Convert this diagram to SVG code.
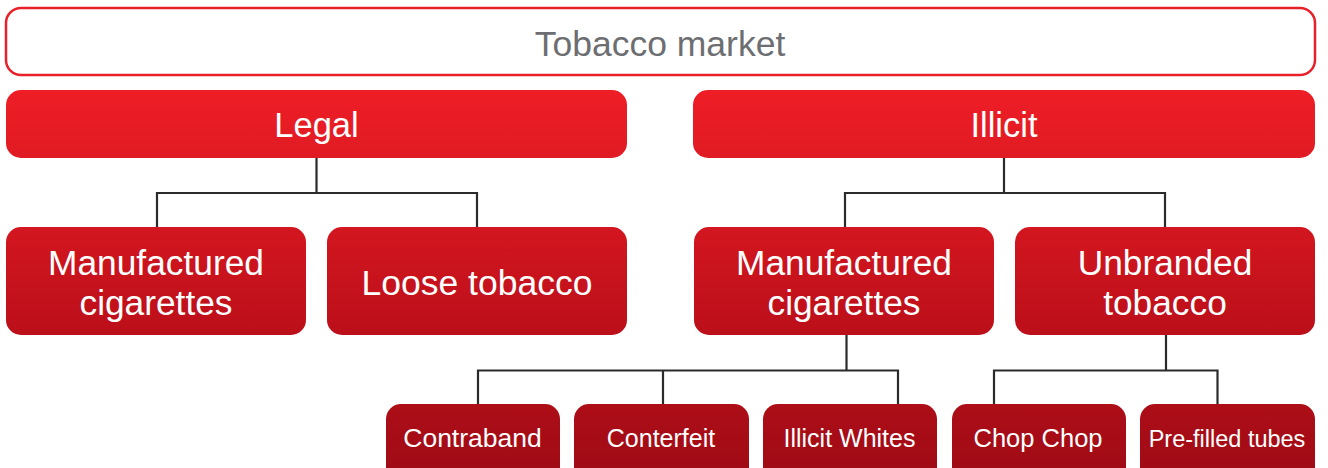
<svg xmlns="http://www.w3.org/2000/svg" width="1328" height="468" viewBox="0 0 1328 468">
  <defs>
    <linearGradient id="g1" x1="0" y1="0" x2="0" y2="1">
      <stop offset="0" stop-color="#EE1D26"/>
      <stop offset="1" stop-color="#E01B23"/>
    </linearGradient>
    <linearGradient id="g2" x1="0" y1="0" x2="0" y2="1">
      <stop offset="0" stop-color="#D3161F"/>
      <stop offset="1" stop-color="#BB0F1A"/>
    </linearGradient>
    <linearGradient id="g3" x1="0" y1="0" x2="0" y2="1">
      <stop offset="0" stop-color="#AD0E18"/>
      <stop offset="1" stop-color="#9E0A14"/>
    </linearGradient>
  </defs>
  <style>
    text { font-family: "Liberation Sans", Arial, Helvetica, sans-serif; text-anchor: middle; }
    .lbl { fill: #FFFFFF; }
    .l1 { fill: url(#g1); }
    .l2 { fill: url(#g2); }
    .l3 { fill: url(#g3); }
    .conn { fill: none; stroke: #2B2B2B; stroke-width: 2.2; }
  </style>

  <rect width="1328" height="468" fill="#FFFFFF"/>

  <!-- connectors -->
  <g id="connectors" class="conn">
    <path d="M316.5 158 V193 M157 227 V193 H477 V227"/>
    <path d="M1004 158 V193 M845 227 V193 H1165 V227"/>
    <path d="M846.5 335 V370.5 M478 404 V370.5 H898 V404 M663 370.5 V404"/>
    <path d="M1166 335 V370.5 M994 404 V370.5 H1217.5 V404"/>
  </g>

  <!-- root -->
  <g id="tobacco-market">
    <rect x="6" y="8" width="1309" height="67" rx="15" fill="#FFFFFF" stroke="#E8202A" stroke-width="2.5"/>
    <text x="660" y="56" font-size="35.5" fill="#6D6E71">Tobacco market</text>
  </g>

  <!-- level 1 -->
  <g id="legal">
    <rect class="l1" x="6" y="90" width="621" height="68" rx="15"/>
    <text class="lbl" x="316.5" y="137" font-size="34.5">Legal</text>
  </g>
  <g id="illicit">
    <rect class="l1" x="693" y="90" width="622" height="68" rx="15"/>
    <text class="lbl" x="1004" y="137" font-size="34.5">Illicit</text>
  </g>

  <!-- level 2 -->
  <g id="legal-manufactured">
    <rect class="l2" x="6" y="227" width="300" height="108" rx="15"/>
    <text class="lbl" x="156" y="275" font-size="35.3">Manufactured</text>
    <text class="lbl" x="156" y="315" font-size="35.3">cigarettes</text>
  </g>
  <g id="loose-tobacco">
    <rect class="l2" x="327" y="227" width="300" height="108" rx="15"/>
    <text class="lbl" x="477" y="295" font-size="35.5">Loose tobacco</text>
  </g>
  <g id="illicit-manufactured">
    <rect class="l2" x="694" y="227" width="300" height="108" rx="15"/>
    <text class="lbl" x="844" y="275" font-size="35.3">Manufactured</text>
    <text class="lbl" x="844" y="315" font-size="35.3">cigarettes</text>
  </g>
  <g id="unbranded-tobacco">
    <rect class="l2" x="1015" y="227" width="300" height="108" rx="15"/>
    <text class="lbl" x="1165" y="275" font-size="35.3">Unbranded</text>
    <text class="lbl" x="1165" y="315" font-size="35.3">tobacco</text>
  </g>

  <!-- level 3 -->
  <g id="contraband">
    <rect class="l3" x="386" y="404" width="174" height="80" rx="15"/>
    <text class="lbl" x="472.5" y="447" font-size="26.5">Contraband</text>
  </g>
  <g id="conterfeit">
    <rect class="l3" x="574" y="404" width="175" height="80" rx="15"/>
    <text class="lbl" x="661" y="447" font-size="25">Conterfeit</text>
  </g>
  <g id="illicit-whites">
    <rect class="l3" x="763" y="404" width="174" height="80" rx="15"/>
    <text class="lbl" x="849.5" y="447" font-size="25">Illicit Whites</text>
  </g>
  <g id="chop-chop">
    <rect class="l3" x="952" y="404" width="174" height="80" rx="15"/>
    <text class="lbl" x="1038" y="447" font-size="25.5">Chop Chop</text>
  </g>
  <g id="pre-filled-tubes">
    <rect class="l3" x="1140" y="404" width="175" height="80" rx="15"/>
    <text class="lbl" x="1227" y="447" font-size="23.5">Pre-filled tubes</text>
  </g>
</svg>
